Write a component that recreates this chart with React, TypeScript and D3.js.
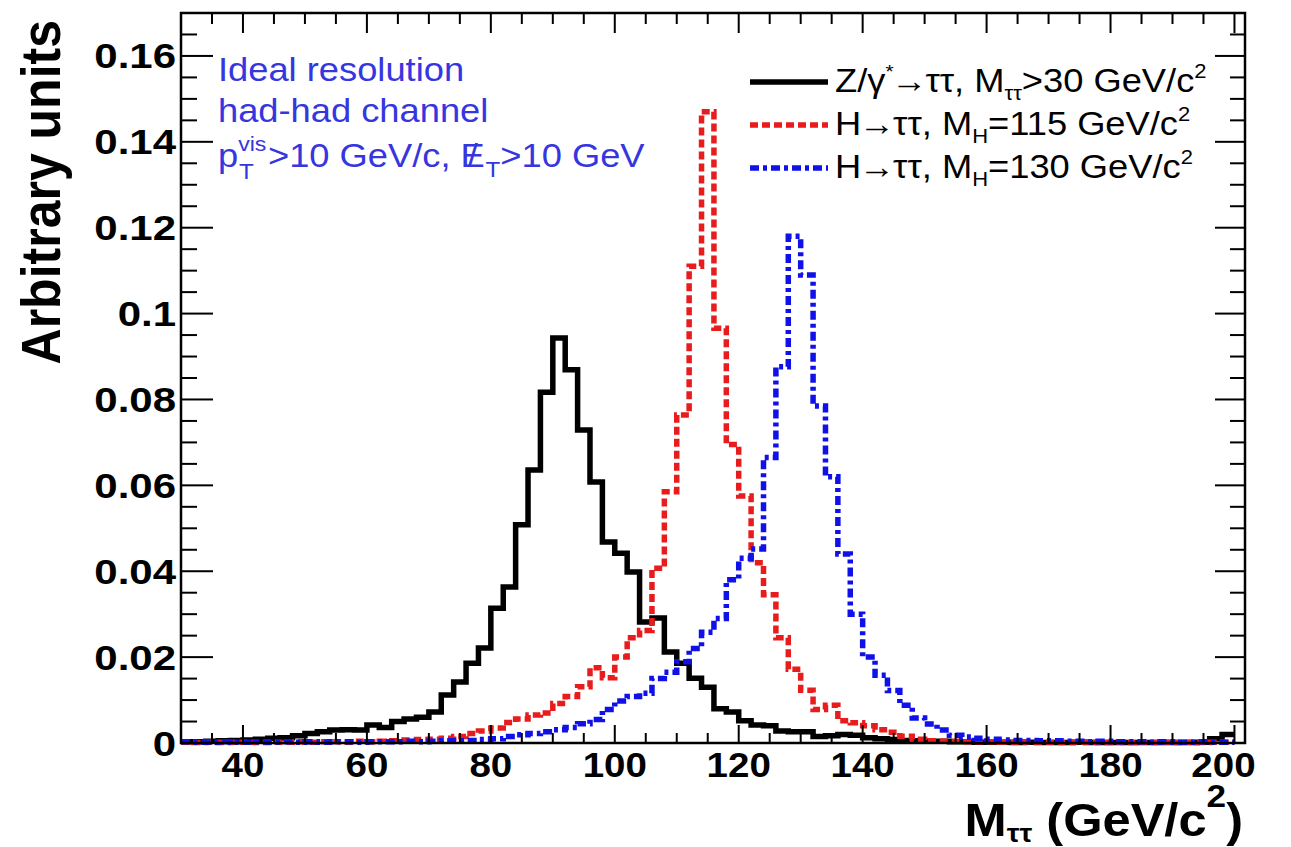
import React from "react";
import * as d3 from "d3";

// Bin layout: 85 bins of 2 GeV/c^2 from 30 to 200
const binLow = 30;
const binWidth = 2;

// Z/gamma* -> tau tau (black, solid)
const zValues = [
  0.0003, 0.0003, 0.0004, 0.0005, 0.0006, 0.0007, 0.0009, 0.0011, 0.0012, 0.0017,
  0.0022, 0.0026, 0.0030, 0.0031, 0.0030, 0.0042, 0.0036, 0.0050, 0.0056, 0.0060,
  0.0072, 0.0112, 0.0142, 0.0186, 0.0221, 0.0314, 0.0363, 0.0508, 0.0636, 0.0817,
  0.0943, 0.0869, 0.0729, 0.0608, 0.0468, 0.0442, 0.0398, 0.0282, 0.0291, 0.0212,
  0.0186, 0.0151, 0.0130, 0.0080, 0.0072, 0.0052, 0.0042, 0.0040, 0.0028, 0.0026,
  0.0026, 0.0015, 0.0017, 0.0020, 0.0018, 0.0012, 0.0010, 0.0008, 0.0006, 0.0005,
  0.0004, 0.0004, 0.0003, 0.0003, 0.0002, 0.0002, 0.0002, 0.0001, 0.0002, 0.0001,
  0.0001, 0.0001, 0.0002, 0.0001, 0.0001, 0.0001, 0.0001, 0.0001, 0.0001, 0.0001,
  0.0001, 0.0001, 0.0002, 0.0010, 0.0020,
];

// H -> tau tau, M_H = 115 (red, dashed)
const h115Values = [
  0.0002, 0.0001, 0.0002, 0.0001, 0.0002, 0.0002, 0.0001, 0.0002, 0.0002, 0.0003,
  0.0002, 0.0003, 0.0003, 0.0002, 0.0004, 0.0003, 0.0004, 0.0005, 0.0007, 0.0008,
  0.0009, 0.0011, 0.0015, 0.0022, 0.0028, 0.0035, 0.0048, 0.0056, 0.0065, 0.0070,
  0.0092, 0.0108, 0.0131, 0.0175, 0.0152, 0.0200, 0.0245, 0.0262, 0.0407, 0.0585,
  0.0764, 0.1110, 0.1470, 0.0966, 0.0695, 0.0575, 0.0420, 0.0345, 0.0245, 0.0172,
  0.0123, 0.0078, 0.0088, 0.0052, 0.0047, 0.0040, 0.0031, 0.0025, 0.0016, 0.0009,
  0.0005, 0.0004, 0.0004, 0.0003, 0.0003, 0.0003, 0.0002, 0.0002, 0.0003, 0.0002,
  0.0002, 0.0001, 0.0002, 0.0002, 0.0001, 0.0002, 0.0001, 0.0002, 0.0001, 0.0002,
  0.0001, 0.0002, 0.0001, 0.0002, 0.0002,
];

// H -> tau tau, M_H = 130 (blue, dash-dot)
const h130Values = [
  0.0003, 0.0002, 0.0002, 0.0003, 0.0002, 0.0002, 0.0003, 0.0002, 0.0003, 0.0002,
  0.0003, 0.0002, 0.0003, 0.0003, 0.0002, 0.0003, 0.0003, 0.0003, 0.0004, 0.0003,
  0.0004, 0.0005, 0.0005, 0.0006, 0.0008, 0.0010, 0.0015, 0.0019, 0.0022, 0.0026,
  0.0031, 0.0036, 0.0045, 0.0055, 0.0078, 0.0098, 0.0108, 0.0116, 0.0150, 0.0165,
  0.0189, 0.0220, 0.0258, 0.0290, 0.0380, 0.0430, 0.0452, 0.0665, 0.0876, 0.1180,
  0.1090, 0.0785, 0.0620, 0.0440, 0.0300, 0.0200, 0.0158, 0.0122, 0.0088, 0.0058,
  0.0044, 0.0030, 0.0018, 0.0014, 0.0011, 0.0009, 0.0007, 0.0006, 0.0006, 0.0005,
  0.0005, 0.0004, 0.0004, 0.0003, 0.0004, 0.0003, 0.0003, 0.0003, 0.0002, 0.0003,
  0.0002, 0.0002, 0.0003, 0.0002, 0.0002,
];

const xTickValues = [40, 60, 80, 100, 120, 140, 160, 180, 200];
const yTickValues = [0, 0.02, 0.04, 0.06, 0.08, 0.1, 0.12, 0.14, 0.16];
const yTickLabels = ["0", "0.02", "0.04", "0.06", "0.08", "0.1", "0.12", "0.14", "0.16"];

const W = 1291;
const H = 847;
const L = 181, R = 1245, T = 13, B = 743;
const FONT = "'Liberation Sans', Arial, Helvetica, sans-serif";
const SX = 1.1;

const RED = "#e81c1c";
const BLUE = "#1010e8";
const TXTBLUE = "#3636e0";

const Txt = ({ x, y, anchor = "start", size, weight = "normal", fill = "#000", sx = SX, children }: any) => (
  <text
    transform={`translate(${x},${y}) scale(${sx},1)`}
    textAnchor={anchor}
    fontSize={size}
    fontWeight={weight}
    fill={fill}
    fontFamily={FONT}
  >
    {children}
  </text>
);

export default function App() {
  const x = d3.scaleLinear().domain([30, 201.7]).range([L, R]);
  const y = d3.scaleLinear().domain([0, 0.17]).range([B, T]);

  const makePath = (vals: number[]) => {
    const pts: [number, number][] = vals.map((v, i) => [binLow + i * binWidth, v]);
    pts.push([binLow + vals.length * binWidth, vals[vals.length - 1]]);
    return d3
      .line<[number, number]>()
      .x((d) => x(d[0]))
      .y((d) => y(d[1]))
      .curve(d3.curveStepAfter)(pts) as string;
  };

  const xMinor = d3.range(30, 201, 5);
  const yMinor = d3.range(0, 0.1701, 0.005);

  const series = [
    { vals: zValues, color: "#000", dash: "none" },
    { vals: h115Values, color: RED, dash: "8,4" },
    { vals: h130Values, color: BLUE, dash: "9,4,4,4" },
  ];

  const legendX1 = 750, legendX2 = 828, legendTX = 835;

  return (
    <svg
      width={W}
      height={H}
      style={{ position: "absolute", left: 0, top: 0, background: "#fff" }}
    >
      <rect x={0} y={0} width={W} height={H} fill="#fff" />

      {/* histograms */}
      {series.map((s, i) => (
        <path
          key={i}
          d={makePath(s.vals)}
          fill="none"
          stroke={s.color}
          strokeWidth={5.5}
          strokeDasharray={s.dash}
          strokeLinejoin="miter"
          strokeLinecap="butt"
        />
      ))}

      {/* frame */}
      <rect x={L} y={T} width={R - L} height={B - T} fill="none" stroke="#000" strokeWidth={2.5} />

      {/* x ticks */}
      {xMinor.map((v) => {
        const major = v % 20 === 0 && v >= 40;
        const px = x(v);
        return (
          <g key={"xt" + v}>
            <line x1={px} x2={px} y1={B} y2={B - (major ? 18 : 10)} stroke="#000" strokeWidth={2} />
            <line x1={px} x2={px} y1={T} y2={T + (major ? 20 : 11)} stroke="#000" strokeWidth={2} />
          </g>
        );
      })}
      {xTickValues.map((v, i) => (
        <Txt
          key={"xl" + v}
          x={x(v) - (i === xTickValues.length - 1 ? 11 : 0)}
          y={777}
          anchor="middle"
          size={35}
          weight="bold"
        >
          {String(v)}
        </Txt>
      ))}

      {/* y ticks */}
      {yMinor.map((v, i) => {
        const major = i % 4 === 0;
        const py = y(v);
        return (
          <g key={"yt" + i}>
            <line x1={L} x2={L + (major ? 32 : 16)} y1={py} y2={py} stroke="#000" strokeWidth={2} />
            <line x1={R} x2={R - (major ? 30 : 15)} y1={py} y2={py} stroke="#000" strokeWidth={2} />
          </g>
        );
      })}
      {yTickValues.map((v, i) => (
        <Txt key={"yl" + i} x={176} y={y(v) + 12.5} anchor="end" size={35} weight="bold" sx={1.2}>
          {yTickLabels[i]}
        </Txt>
      ))}

      {/* axis titles */}
      <text
        transform={`translate(60,20) scale(${SX},1) rotate(-90)`}
        textAnchor="end"
        fontSize={50}
        fontWeight="bold"
        fontFamily={FONT}
        fill="#000"
      >
        Arbitrary units
      </text>
      <Txt x={1243} y={836} anchor="end" size={46} weight="bold">
        M<tspan fontSize={26} dy={6}>ττ</tspan>
        <tspan dy={-6}> (GeV/c</tspan>
        <tspan fontSize={32} dy={-29}>2</tspan>
        <tspan dy={29}>)</tspan>
      </Txt>

      {/* annotation */}
      <Txt x={218} y={81} size={33} fill={TXTBLUE}>Ideal resolution</Txt>
      <Txt x={218} y={122} size={33} fill={TXTBLUE}>had-had channel</Txt>
      <Txt x={218} y={167} size={33} fill={TXTBLUE}>
        p<tspan fontSize={21} dy={-16}>vis</tspan>
        <tspan fontSize={22} dx={-25} dy={28}>T</tspan>
        <tspan dx={13} dy={-12}>&gt;10 GeV/c, E</tspan>
        <tspan dx={-15.5}>/</tspan>
        <tspan fontSize={22} dx={7} dy={10}>T</tspan>
        <tspan dy={-10}>&gt;10 GeV</tspan>
      </Txt>

      {/* legend */}
      {series.map((s, i) => {
        const ly = 82 + i * 43;
        return (
          <line
            key={"lg" + i}
            x1={legendX1}
            x2={legendX2}
            y1={ly}
            y2={ly}
            stroke={s.color}
            strokeWidth={5.5}
            strokeDasharray={s.dash}
          />
        );
      })}
      <Txt x={legendTX} y={92} size={33}>
        Z/γ<tspan fontSize={19} dy={-14}>*</tspan>
        <tspan dx={-2} dy={14}>→</tspan>
        <tspan dx={-2}>ττ, M</tspan>
        <tspan fontSize={20} dy={8}>ττ</tspan>
        <tspan dy={-8}>&gt;30 GeV/c</tspan>
        <tspan fontSize={20} dy={-14}>2</tspan>
      </Txt>
      <Txt x={legendTX} y={135} size={33}>
        H<tspan dx={-2}>→</tspan>
        <tspan dx={-2}>ττ, M</tspan>
        <tspan fontSize={20} dy={8}>H</tspan>
        <tspan dy={-8}>=115 GeV/c</tspan>
        <tspan fontSize={20} dy={-14}>2</tspan>
      </Txt>
      <Txt x={legendTX} y={178} size={33}>
        H<tspan dx={-2}>→</tspan>
        <tspan dx={-2}>ττ, M</tspan>
        <tspan fontSize={20} dy={8}>H</tspan>
        <tspan dy={-8}>=130 GeV/c</tspan>
        <tspan fontSize={20} dy={-14}>2</tspan>
      </Txt>
    </svg>
  );
}
